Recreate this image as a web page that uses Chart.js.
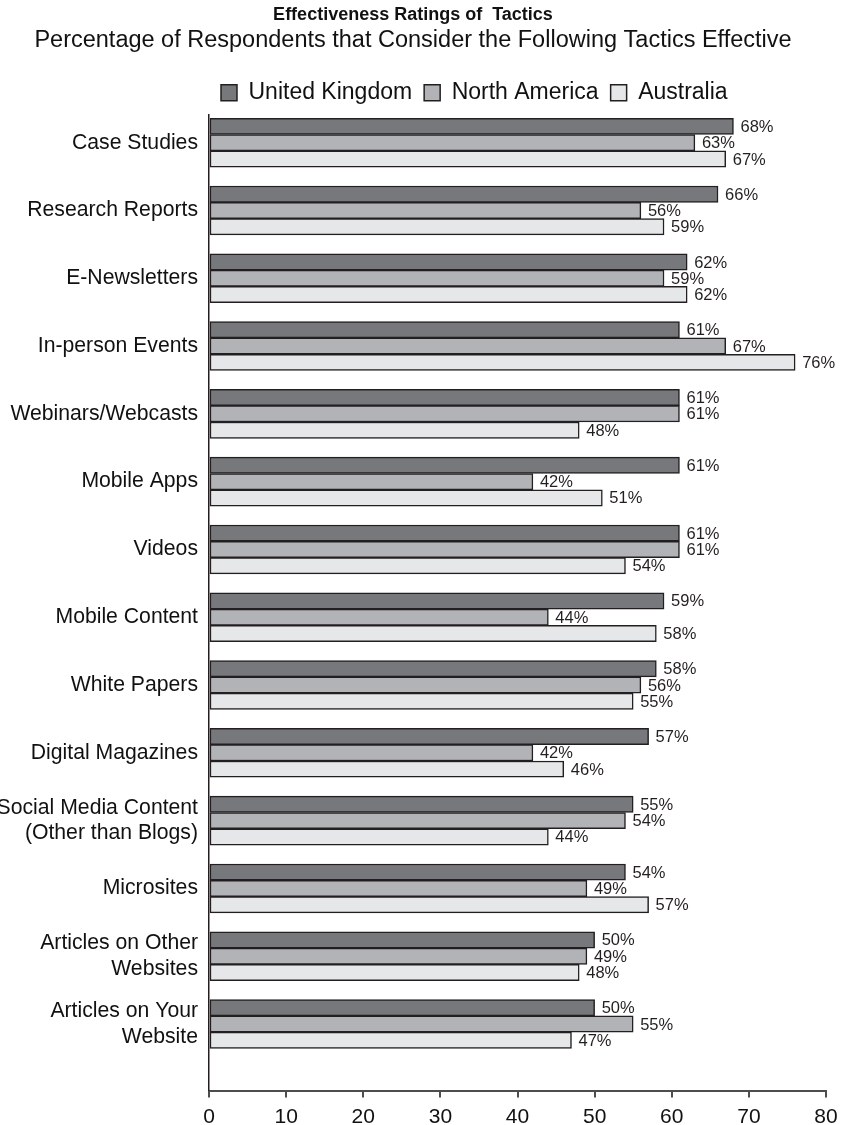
<!DOCTYPE html>
<html>
<head>
<meta charset="utf-8">
<script src="https://cdn.jsdelivr.net/npm/chart.js@4.4.1/dist/chart.umd.min.js"></script>
<style>
  html, body { margin: 0; padding: 0; background: #ffffff; }
  #wrap { width: 841px; height: 1125px; position: relative; }
</style>
</head>
<body>
<div id="wrap"><canvas id="c"></canvas></div>
<script>
const categories = [
  "Case Studies",
  "Research Reports",
  "E-Newsletters",
  "In-person Events",
  "Webinars/Webcasts",
  "Mobile Apps",
  "Videos",
  "Mobile Content",
  "White Papers",
  "Digital Magazines",
  ["Social Media Content", "(Other than Blogs)"],
  "Microsites",
  ["Articles on Other", "Websites"],
  ["Articles on Your", "Website"]
];
const unitedKingdom = [68, 66, 62, 61, 61, 61, 61, 59, 58, 57, 55, 54, 50, 50];
const northAmerica  = [63, 56, 59, 67, 61, 42, 61, 44, 56, 42, 54, 49, 49, 55];
const australia     = [67, 59, 62, 76, 48, 51, 54, 58, 55, 46, 44, 57, 48, 47];
const seriesNames = ["United Kingdom", "North America", "Australia"];
const xTicks = [0, 10, 20, 30, 40, 50, 60, 70, 80];

const FONT = "'Liberation Sans', Arial, Helvetica, sans-serif";
const EDGE = '#231f20';

const valueLabels = {
  id: 'valueLabels',
  afterDatasetsDraw(chart) {
    const ctx = chart.ctx;
    ctx.save();
    ctx.font = '16.5px ' + FONT;
    ctx.fillStyle = '#231f20';
    ctx.textAlign = 'left';
    ctx.textBaseline = 'middle';
    chart.data.datasets.forEach((ds, di) => {
      const meta = chart.getDatasetMeta(di);
      meta.data.forEach((el, i) => {
        ctx.fillText(ds.data[i] + '%', el.x + 7, el.y + 1);
      });
    });
    ctx.restore();
  }
};

new Chart(document.getElementById('c'), {
  type: 'bar',
  data: {
    labels: categories,
    datasets: [
      { label: seriesNames[0], data: unitedKingdom, backgroundColor: '#77787b' },
      { label: seriesNames[1], data: northAmerica,  backgroundColor: '#b1b3b6' },
      { label: seriesNames[2], data: australia,     backgroundColor: '#e6e7e8' }
    ].map(d => Object.assign(d, {
      borderColor: EDGE, borderWidth: 1.5, borderSkipped: false, barThickness: 16.3
    }))
  },
  plugins: [valueLabels],
  options: {
    indexAxis: 'y',
    responsive: true,
    maintainAspectRatio: false,
    animation: false,
    layout: { padding: { left: 0, right: 15, top: 0, bottom: 0 } },
    plugins: {
      title: {
        display: true,
        text: 'Effectiveness Ratings of  Tactics',
        color: '#111',
        font: { family: FONT, size: 18, weight: 'bold', lineHeight: 1.2 },
        padding: { top: 4, bottom: 0 }
      },
      subtitle: {
        display: true,
        text: 'Percentage of Respondents that Consider the Following Tactics Effective',
        color: '#111',
        font: { family: FONT, size: 23.5, weight: 'normal', lineHeight: 1.05 },
        padding: { top: 3, bottom: 16 }
      },
      legend: {
        display: true,
        position: 'top',
        align: 'start',
        fullSize: false,
        labels: {
          color: '#111',
          font: { family: FONT, size: 23, lineHeight: 1 },
          boxWidth: 16,
          boxHeight: 16,
          padding: 12
        }
      },
      tooltip: { enabled: false }
    },
    scales: {
      x: {
        type: 'linear',
        position: 'bottom',
        min: 0,
        max: 80,
        afterBuildTicks: s => { s.ticks = xTicks.map(v => ({ value: v })); },
        afterFit: s => { s.height = 34.5; s.paddingRight = 0; s.paddingLeft = 0; },
        grid: { display: true, drawOnChartArea: false, drawTicks: true, tickLength: 7, color: '#4d4d4f', lineWidth: 2 },
        border: { display: true, color: '#4d4d4f', width: 2 },
        ticks: { color: '#111', font: { family: FONT, size: 21, lineHeight: 1 }, padding: 9, maxRotation: 0 }
      },
      y: {
        type: 'category',
        offset: true,
        afterBuildTicks: s => { s._startValue = -0.419; s._valueRange = 14.40; },
        afterFit: s => { s.width = 209; },
        grid: { display: false },
        border: { display: true, color: EDGE, width: 1.5 },
        ticks: { color: '#111', font: { family: FONT, size: 21.2, lineHeight: 1.2 }, padding: 3, autoSkip: false }
      }
    }
  }
});
</script>
</body>
</html>
